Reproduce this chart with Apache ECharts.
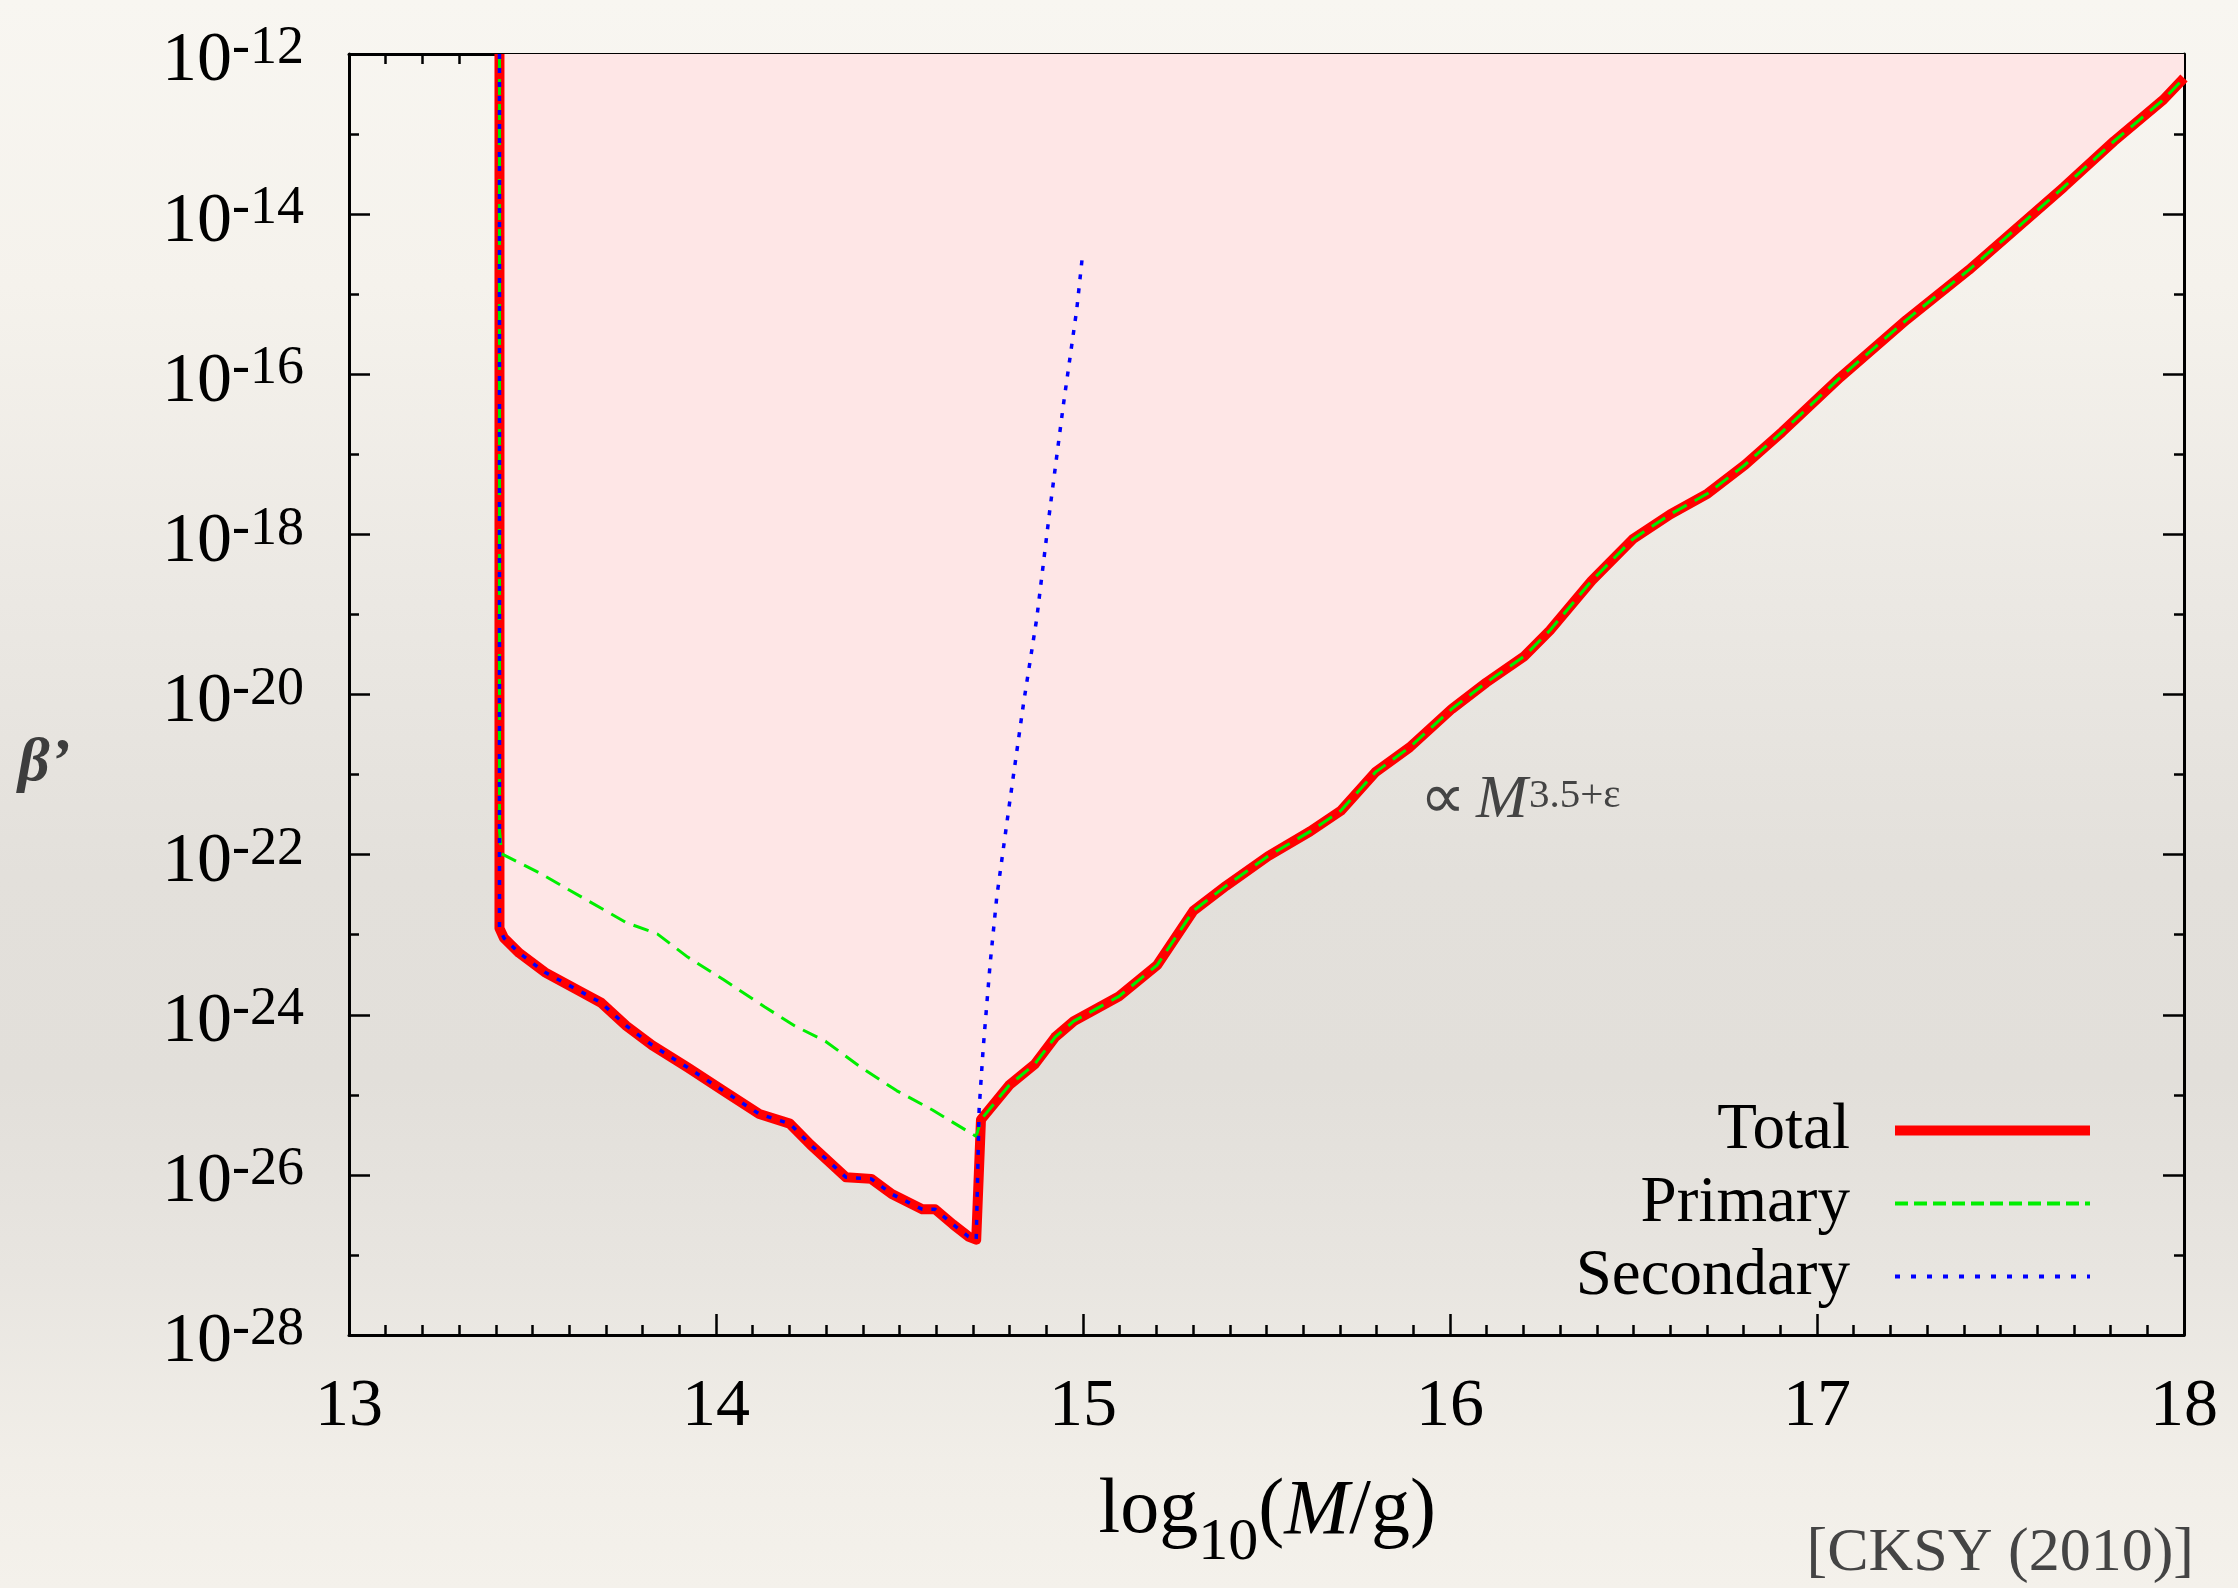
<!DOCTYPE html>
<html><head><meta charset="utf-8">
<script src="https://cdn.jsdelivr.net/npm/echarts@6/dist/echarts.min.js"></script>
<style>
html,body{margin:0;padding:0;width:2238px;height:1588px;overflow:hidden;
background:linear-gradient(to bottom,#f8f6f1 0%,#f5f2ec 18%,#ebe8e3 38%,#e3e0db 55%,#e2dfda 68%,#e8e5e0 80%,#f1eee8 92%,#f4f1eb 100%);}
#c{width:2238px;height:1588px;}
</style></head><body><div id="c"></div>
<script>
// ---- data (log10 M/g , log10 beta') ----
const xTickValues = [13, 14, 15, 16, 17, 18];
const yTickExponents = [-28, -26, -24, -22, -20, -18, -16, -14, -12];

// low-mass branch shared by Total and Secondary
const lowBranchLogM    = [13.41, 13.41, 13.422, 13.464, 13.534, 13.631, 13.687, 13.756, 13.826, 13.923, 14.020, 14.118, 14.201, 14.257, 14.354, 14.423, 14.479, 14.562, 14.597, 14.646, 14.688, 14.709];
const lowBranchLogBeta = [-12.0, -22.92, -23.04, -23.23, -23.47, -23.71, -23.85, -24.14, -24.38, -24.66, -24.95, -25.24, -25.36, -25.62, -26.03, -26.05, -26.24, -26.43, -26.43, -26.62, -26.77, -26.81];

// high-mass branch shared by Total and Primary
const highBranchLogM    = [14.722, 14.799, 14.868, 14.924, 14.975, 15.098, 15.202, 15.301, 15.390, 15.504, 15.619, 15.703, 15.797, 15.890, 16.005, 16.099, 16.203, 16.272, 16.386, 16.498, 16.600, 16.702, 16.804, 16.905, 17.063, 17.244, 17.413, 17.673, 17.809, 17.944, 18.0];
const highBranchLogBeta = [-25.31, -24.88, -24.62, -24.28, -24.08, -23.77, -23.38, -22.70, -22.39, -22.02, -21.71, -21.45, -20.97, -20.66, -20.18, -19.85, -19.52, -19.20, -18.58, -18.06, -17.75, -17.49, -17.13, -16.72, -16.04, -15.32, -14.70, -13.66, -13.09, -12.57, -12.30];

// Primary, low-mass part
const primaryLowLogM    = [13.41, 13.41, 13.416, 13.520, 13.645, 13.756, 13.840, 13.923, 14.020, 14.132, 14.215, 14.298, 14.396, 14.493, 14.590, 14.709];
const primaryLowLogBeta = [-12.0, -21.70, -21.99, -22.23, -22.56, -22.85, -22.99, -23.28, -23.56, -23.90, -24.14, -24.33, -24.66, -24.95, -25.19, -25.52];

// Secondary, steep rising part
const secondaryRiseLogM    = [14.717, 14.728, 14.747, 14.765, 14.801, 14.838, 14.874, 14.910, 14.946, 14.983, 14.998];
const secondaryRiseLogBeta = [-25.18, -24.42, -23.36, -22.53, -21.32, -20.11, -19.05, -17.68, -16.40, -15.19, -14.54];

const pairs = (xs, ys) => xs.map((x, i) => [x, ys[i]]);
const totalData = pairs(lowBranchLogM, lowBranchLogBeta).concat(pairs(highBranchLogM, highBranchLogBeta));
const primaryData = pairs(primaryLowLogM, primaryLowLogBeta).concat(pairs(highBranchLogM, highBranchLogBeta));
const secondaryData = pairs(lowBranchLogM, lowBranchLogBeta).concat(pairs(secondaryRiseLogM, secondaryRiseLogBeta));

const SERIF = "'Liberation Serif','Times New Roman',serif";

function xAxisCfg(pos, showLabels) {
  return {
    type: 'value', position: pos, min: 13, max: 18, interval: 1,
    axisLine: {show: true, onZero: false, lineStyle: {color: '#000', width: 3}},
    axisTick: {show: true, inside: true, length: 21, lineStyle: {color: '#000', width: 2.5}},
    minorTick: {show: true, splitNumber: 10, length: 10, lineStyle: {color: '#000', width: 2.5}},
    splitLine: {show: false}, minorSplitLine: {show: false},
    axisLabel: {show: showLabels, margin: 38, fontFamily: SERIF, fontSize: 68, lineHeight: 68, color: '#000',
      formatter: v => xTickValues.includes(v) ? String(v) : ''}
  };
}
function yAxisCfg(pos, showLabels) {
  return {
    type: 'value', position: pos, min: -28, max: -12, interval: 2,
    axisLine: {show: true, onZero: false, lineStyle: {color: '#000', width: 3}},
    axisTick: {show: true, inside: true, length: 21, lineStyle: {color: '#000', width: 2.5}},
    minorTick: {show: true, splitNumber: 2, length: 10, lineStyle: {color: '#000', width: 2.5}},
    splitLine: {show: false}, minorSplitLine: {show: false},
    axisLabel: {show: showLabels, margin: 45, padding: [16, 0, 0, 0], color: '#000',
      formatter: v => yTickExponents.includes(v) ? '{b|10}{s|' + v + '}' : '',
      rich: {
        b: {fontFamily: SERIF, fontSize: 70, lineHeight: 80, verticalAlign: 'middle', color: '#000'},
        s: {fontFamily: SERIF, fontSize: 54, lineHeight: 18, verticalAlign: 'top', color: '#000'}
      }}
  };
}

const chart = echarts.init(document.getElementById('c'), null, {renderer: 'canvas'});
chart.setOption({
  animation: false,
  backgroundColor: 'transparent',
  grid: {left: 349, right: 54, top: 54, bottom: 253, containLabel: false},
  xAxis: [xAxisCfg('bottom', true), xAxisCfg('top', false)],
  yAxis: [yAxisCfg('left', true), yAxisCfg('right', false)],
  legend: {
    data: [
      {name: 'Total', itemStyle: {opacity: 0}, lineStyle: {width: 10, color: '#ff0000'}},
      {name: 'Primary', itemStyle: {opacity: 0}, lineStyle: {width: 4, color: '#00ee00', type: [13, 6]}},
      {name: 'Secondary', itemStyle: {opacity: 0}, lineStyle: {width: 4, color: '#0000ff', type: [5, 11]}}
    ],
    orient: 'vertical', align: 'right', right: 143, top: 1094, padding: 0,
    itemWidth: 195, itemHeight: 14, itemGap: 0,
    selectedMode: false,
    itemStyle: {opacity: 0},
    textStyle: {fontFamily: SERIF, fontSize: 65, lineHeight: 73, color: '#000', padding: [0, 40, 0, 0]}
  },
  series: [
    {name: 'region', type: 'line', xAxisIndex: 0, yAxisIndex: 0, data: totalData, symbol: 'none', silent: true,
     lineStyle: {width: 0, opacity: 0}, areaStyle: {color: '#fee6e6', opacity: 1, origin: 'end'}, z: 1},
    {name: 'Total', type: 'line', xAxisIndex: 0, yAxisIndex: 0, data: totalData, symbol: 'none',
     lineStyle: {color: '#ff0000', width: 10, join: 'round'}, itemStyle: {color: '#ff0000'}, z: 3},
    {name: 'Primary', type: 'line', xAxisIndex: 0, yAxisIndex: 0, data: primaryData, symbol: 'none',
     lineStyle: {color: '#00ee00', width: 3, type: [16, 9]}, itemStyle: {color: '#00ee00'}, z: 4},
    {name: 'Secondary', type: 'line', xAxisIndex: 0, yAxisIndex: 0, data: secondaryData, symbol: 'none',
     lineStyle: {color: '#0000ff', width: 3.5, type: [5, 9]}, itemStyle: {color: '#0000ff'}, z: 5}
  ],
  graphic: [
    {type: 'text', x: 18, y: 764, style: {text: 'β’', fontFamily: SERIF, fontSize: 62, fontStyle: 'italic', fontWeight: 'bold', fill: '#3d3d3d', verticalAlign: 'middle'}},
    {type: 'text', x: 1266, y: 1473, style: {
      text: '{h| }{t|log}{sub|10}{t|(}{it|M}{t|/g)}', align: 'center', verticalAlign: 'top',
      rich: {
        h: {fontFamily: SERIF, fontSize: 10, lineHeight: 100, verticalAlign: 'top', fill: '#000'},
        t: {fontFamily: SERIF, fontSize: 78, lineHeight: 74, verticalAlign: 'top', fill: '#000'},
        it: {fontFamily: SERIF, fontSize: 78, fontStyle: 'italic', lineHeight: 74, verticalAlign: 'top', fill: '#000'},
        sub: {fontFamily: SERIF, fontSize: 60, lineHeight: 66, verticalAlign: 'bottom', fill: '#000'}
      }}},
    {type: 'text', x: 1420, y: 801, style: {text: '∝', fontFamily: SERIF, fontSize: 64, fill: '#444', verticalAlign: 'middle'}},
    {type: 'text', x: 1476, y: 801, style: {text: 'M', fontFamily: SERIF, fontSize: 62, fontStyle: 'italic', fill: '#444', verticalAlign: 'middle'}},
    {type: 'text', x: 1529, y: 796, style: {text: '3.5+ε', fontFamily: SERIF, fontSize: 41, fill: '#444', verticalAlign: 'middle'}},
    {type: 'text', x: 2194, y: 1554, style: {text: '[CKSY (2010)]', fontFamily: SERIF, fontSize: 62, fill: '#444', align: 'right', verticalAlign: 'middle'}}
  ]
});
</script></body></html>
